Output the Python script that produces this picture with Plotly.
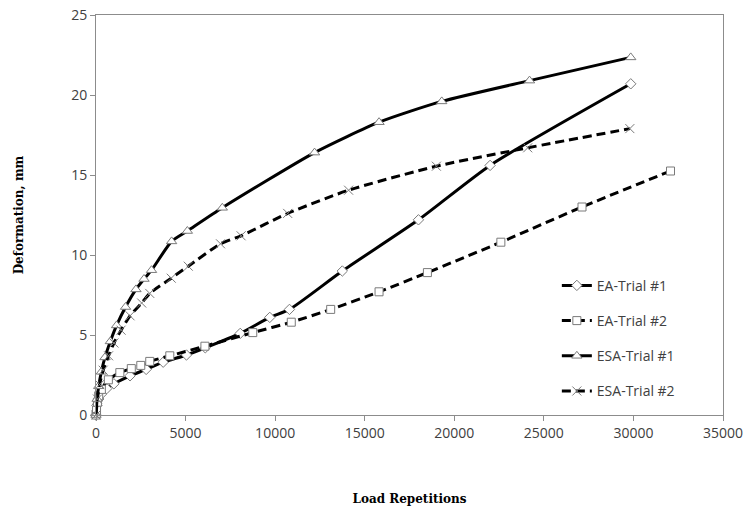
import plotly.graph_objects as go

# ---- data ----
ea1_x = [0, 50, 150, 300, 600, 1000, 1900, 2800, 3750, 5050, 6100, 8050, 9700, 10800, 13750, 18000, 22000, 29850]
ea1_y = [0, 0.6, 1.0, 1.3, 1.65, 1.95, 2.45, 2.85, 3.3, 3.75, 4.2, 5.1, 6.1, 6.6, 9.0, 12.2, 15.6, 20.7]

ea2_x = [0, 30, 80, 150, 300, 690, 1330, 1970, 2500, 3000, 4120, 6080, 8750, 10900, 13100, 15800, 18500, 22600, 27130, 32070]
ea2_y = [0, 0.3, 0.8, 1.2, 1.6, 2.2, 2.65, 2.9, 3.1, 3.35, 3.7, 4.3, 5.15, 5.8, 6.6, 7.7, 8.9, 10.8, 13.0, 15.25]

esa1_x = [0, 60, 150, 300, 500, 800, 1150, 1650, 2230, 2680, 3100, 4220, 5100, 7050, 12200, 15800, 19300, 24200, 29850]
esa1_y = [0, 1.0, 1.8, 2.7, 3.6, 4.6, 5.6, 6.75, 7.85, 8.5, 9.05, 10.85, 11.5, 12.95, 16.4, 18.3, 19.6, 20.9, 22.35]

esa2_x = [0, 80, 200, 400, 700, 1000, 1400, 1900, 2550, 3000, 4200, 5150, 6950, 8100, 10700, 14100, 19000, 24100, 29800]
esa2_y = [0, 1.0, 1.9, 2.8, 3.7, 4.5, 5.3, 6.2, 7.0, 7.6, 8.55, 9.3, 10.7, 11.2, 12.6, 14.05, 15.55, 16.7, 17.9]

names = ["EA-Trial #1", "EA-Trial #2", "ESA-Trial #1", "ESA-Trial #2"]
x_ticks = [0, 5000, 10000, 15000, 20000, 25000, 30000, 35000]
y_ticks = [0, 5, 10, 15, 20, 25]

series = [
    (ea1_x, ea1_y, "diamond", "solid", 8),
    (ea2_x, ea2_y, "square", "9px,5px", 8),
    (esa1_x, esa1_y, "triangle-up", "solid", 9),
    (esa2_x, esa2_y, "x-thin", "9px,5px", 9),
]

fig = go.Figure()
for i, (xs, ys, sym, dash, ms) in enumerate(series):
    marker = dict(symbol=sym, size=ms, color="white",
                  line=dict(color="#7a7a7a", width=1))
    if sym == "x-thin":
        marker = dict(symbol=sym, size=ms, color="#7a7a7a",
                      line=dict(color="#7a7a7a", width=1))
    fig.add_trace(go.Scatter(
        x=xs, y=ys, name=names[i], mode="lines+markers",
        line=dict(color="black", width=3, dash=dash, shape="spline", smoothing=0.6),
        marker=marker, legendgroup=f"g{i}", cliponaxis=False,
    ))

fig.update_layout(
    width=749, height=512,
    margin=dict(l=96, r=26, t=15, b=97),
    paper_bgcolor="white", plot_bgcolor="white",
    font=dict(family="Open Sans", size=14, color="#404040"),
    legend=dict(x=0.735, y=0.363, xanchor="left", yanchor="top",
                bgcolor="rgba(0,0,0,0)", tracegroupgap=14,
                font=dict(family="Open Sans", size=14, color="#404040")),
    showlegend=True,
)
fig.update_xaxes(
    range=[0, 35000], tickvals=x_ticks, ticktext=[str(v) for v in x_ticks],
    showgrid=False, zeroline=False, showline=True, linecolor="#8c8c8c", linewidth=1,
    mirror=True, ticks="outside", ticklen=5, tickcolor="#8c8c8c", automargin=False,
    tickfont=dict(family="Open Sans", size=14, color="#404040"),
    title=dict(text="<b>Load Repetitions</b>", standoff=53,
               font=dict(family="DejaVu Serif", size=12, color="black")),
)
fig.update_yaxes(
    range=[0, 25], tickvals=y_ticks, ticktext=[str(v) for v in y_ticks],
    showgrid=False, zeroline=False, showline=True, linecolor="#8c8c8c", linewidth=1,
    mirror=True, ticks="outside", ticklen=5, tickcolor="#8c8c8c", automargin=False,
    tickfont=dict(family="Open Sans", size=14, color="#404040"),
    title=dict(text="<b>Deformation, mm</b>", standoff=44,
               font=dict(family="DejaVu Serif", size=12, color="black")),
)

fig.write_html("out.html")
